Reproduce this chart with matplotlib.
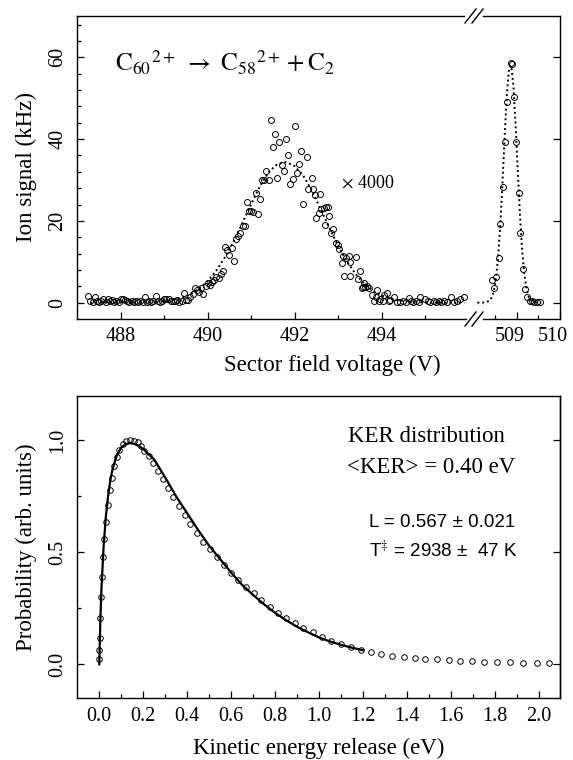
# C60 2+ -> C58 2+ + C2 : MIKE peak and KER distribution

import numpy as np
import matplotlib
matplotlib.use("Agg")
import matplotlib.pyplot as plt
from matplotlib.lines import Line2D
from matplotlib.ticker import FixedLocator, FormatStrFormatter
from matplotlib.transforms import ScaledTranslation

plt.rcParams['font.family'] = ['Liberation Serif', 'DejaVu Serif']
plt.rcParams['mathtext.fontset'] = 'stix'

# ---- top panel: fragment peak (x4000) and parent peak ----
frag_v = [487.25, 487.30, 487.35, 487.40, 487.45, 487.50, 487.55, 487.60, 487.65, 487.70,
          487.75, 487.80, 487.85, 487.90, 487.95, 488.00, 488.05, 488.10, 488.15, 488.20,
          488.25, 488.30, 488.35, 488.40, 488.45, 488.50, 488.55, 488.60, 488.65, 488.70,
          488.75, 488.80, 488.85, 488.90, 488.95, 489.00, 489.05, 489.10, 489.15, 489.20,
          489.25, 489.30, 489.35, 489.40, 489.45, 489.50, 489.55, 489.60, 489.65, 489.70,
          489.75, 489.80, 489.85, 489.90, 489.95, 490.00, 490.05, 490.10, 490.15, 490.20,
          490.25, 490.30, 490.35, 490.40, 490.45, 490.50, 490.55, 490.60, 490.65, 490.70,
          490.75, 490.80, 490.85, 490.90, 490.95, 491.00, 491.05, 491.10, 491.15, 491.20,
          491.25, 491.30, 491.35, 491.40, 491.45, 491.50, 491.55, 491.60, 491.65, 491.70,
          491.75, 491.80, 491.85, 491.90, 491.95, 492.00, 492.05, 492.10, 492.15, 492.20,
          492.29, 492.30, 492.40, 492.43, 492.46, 492.48, 492.56, 492.58, 492.61, 492.67,
          492.69, 492.72, 492.77, 492.79, 492.83, 492.87, 492.94, 493.00, 493.02, 493.09,
          493.12, 493.13, 493.18, 493.25, 493.26, 493.27, 493.40, 493.45, 493.50, 493.54,
          493.57, 493.60, 493.62, 493.66, 493.70, 493.78, 493.82, 493.86, 493.89, 493.93,
          493.97, 494.02, 494.06, 494.12, 494.16, 494.20, 494.29, 494.35, 494.43, 494.50,
          494.56, 494.62, 494.67, 494.73, 494.80, 494.85, 494.89, 495.00, 495.06, 495.12,
          495.20, 495.25, 495.31, 495.37, 495.43, 495.50, 495.60, 495.66, 495.73, 495.81,
          495.89]
frag_sig = [1.6, 0.3, 0.2, 1.5, 0.3, 0.2, 0.3, 0.9, 0.2, 1.0,
            0.4, 0.6, 0.2, 0.3, 0.2, 0.8, 1.0, 0.6, 0.4, 0.2,
            0.3, 0.2, 0.3, 0.2, 0.3, 0.2, 1.4, 0.2, 0.3, 0.2,
            0.4, 1.6, 0.3, 0.2, 0.4, 0.9, 0.8, 1.0, 0.5, 0.3,
            0.4, 0.6, 0.2, 0.5, 2.4, 0.6, 0.6, 1.4, 2.0, 3.5,
            3.1, 2.6, 3.5, 2.1, 4.0, 4.7, 4.2, 5.0, 5.6, 6.2,
            6.0, 7.0, 7.8, 13.7, 12.9, 11.7, 13.4, 10.2, 15.5, 16.4,
            17.0, 18.8, 18.8, 24.7, 22.3, 22.3, 22.1, 26.8, 21.6, 25.3,
            29.9, 30.0, 32.1, 30.0, 44.6, 38.0, 41.2, 30.6, 39.3, 33.7,
            32.3, 40.1, 36.0, 29.1, 30.2, 43.1, 31.7, 33.9, 37.1, 24.1,
            35.6, 27.8, 30.4, 27.8, 26.3, 20.6, 22.0, 26.5, 22.8, 23.1,
            19.0, 23.3, 23.3, 21.2, 17.0, 18.0, 14.7, 14.1, 13.1, 9.6,
            11.3, 6.5, 11.0, 11.3, 6.5, 10.0, 11.2, 5.9, 7.7, 3.6,
            3.8, 4.7, 3.8, 4.1, 3.5, 1.9, 0.5, 1.5, 3.1, 0.4,
            0.8, 0.3, 1.9, 2.4, 0.4, 0.7, 1.3, 0.2, 0.1, 0.4,
            0.2, 1.1, 0.3, 0.2, 0.3, 0.1, 1.5, 0.9, 0.3, 0.2,
            0.5, 0.2, 0.4, 0.2, 0.5, 0.2, 1.5, 0.2, 0.5, 0.8,
            1.3]

frag_fit_v = [487.3, 488.0, 488.6, 489.0, 489.2, 489.4, 489.6, 489.8, 490.0, 490.2,
              490.4, 490.6, 490.8, 491.0, 491.2, 491.4, 491.6, 491.8, 492.0, 492.2,
              492.4, 492.6, 492.8, 493.0, 493.2, 493.4, 493.6, 493.8, 494.0, 494.2,
              494.4, 494.6, 494.8, 495.0, 495.4, 495.9]
frag_fit = [0.0, 0.0, 0.1, 0.35, 0.67, 1.19, 2.06, 3.38, 5.29, 7.88,
            11.2, 15.1, 19.6, 24.1, 28.5, 31.9, 33.9, 34.4, 33.4, 31.0,
            27.3, 22.8, 18.2, 13.9, 10.1, 7.0, 4.6, 2.9, 1.76, 1.01,
            0.55, 0.29, 0.14, 0.06, 0.0, 0.0]

par_v = [508.44, 508.48, 508.53, 508.59, 508.63, 508.69, 508.73, 508.78, 508.88, 508.90,
         508.95, 508.99, 509.05, 509.09, 509.15, 509.20, 509.25, 509.30, 509.35, 509.41,
         509.48, 509.54]
par_sig = [5.5, 3.5, 6.2, 10.9, 19.2, 28.4, 39.4, 49.2, 58.6, 58.3,
           50.3, 39.3, 26.8, 17.1, 8.2, 3.3, 1.3, 0.5, 0.3, 0.1,
           0.1, 0.1]
par_fit_v = [508.10, 508.18, 508.28, 508.38, 508.43, 508.48, 508.53, 508.58, 508.63, 508.68,
             508.73, 508.78, 508.83, 508.88, 508.93, 508.98, 509.03, 509.08, 509.13, 509.18,
             509.23, 509.28, 509.33, 509.38, 509.43, 509.50, 509.57]
par_fit = [0.0, 0.0, 0.05, 0.48, 1.25, 2.9, 6.0, 11.5, 19.5, 29.8,
           41.2, 51.2, 57.4, 58.0, 52.9, 43.3, 32.1, 21.3, 12.8, 6.9,
           3.4, 1.5, 0.6, 0.2, 0.1, 0.0, 0.0]

# ---- bottom panel: KER distribution ----
ker_e = [0.000, 0.001, 0.002, 0.005, 0.008, 0.011, 0.018, 0.023, 0.030, 0.038,
         0.049, 0.059, 0.068, 0.079, 0.091, 0.106, 0.121, 0.140, 0.158, 0.175,
         0.188, 0.205, 0.225, 0.245, 0.268, 0.291, 0.314, 0.336, 0.362, 0.390,
         0.415, 0.445, 0.473, 0.503, 0.536, 0.567, 0.599, 0.632, 0.668, 0.703,
         0.736, 0.775, 0.814, 0.852, 0.891, 0.929, 0.972, 1.013, 1.057, 1.100,
         1.145, 1.190, 1.235, 1.284, 1.334, 1.385, 1.435, 1.485, 1.538, 1.591,
         1.644, 1.697, 1.753, 1.811, 1.870, 1.930, 1.991, 2.049]
ker_p = [0.024, 0.064, 0.116, 0.208, 0.299, 0.390, 0.480, 0.558, 0.637, 0.711,
         0.778, 0.833, 0.885, 0.924, 0.957, 0.982, 0.997, 1.000, 0.998, 0.991,
         0.975, 0.954, 0.930, 0.900, 0.864, 0.826, 0.788, 0.748, 0.707, 0.667,
         0.626, 0.588, 0.547, 0.513, 0.478, 0.443, 0.409, 0.378, 0.347, 0.317,
         0.287, 0.257, 0.231, 0.205, 0.183, 0.161, 0.142, 0.122, 0.105, 0.090,
         0.076, 0.064, 0.054, 0.046, 0.039, 0.031, 0.027, 0.024, 0.022, 0.019,
         0.016, 0.015, 0.012, 0.010, 0.008, 0.007, 0.004, 0.004]
fit_e = [0.0, 0.005, 0.01, 0.02, 0.03, 0.04, 0.05, 0.06, 0.08, 0.10,
         0.12, 0.14, 0.16, 0.18, 0.20, 0.25, 0.30, 0.35, 0.40, 0.45,
         0.50, 0.55, 0.60, 0.65, 0.70, 0.75, 0.80, 0.85, 0.90, 0.95,
         1.00, 1.05, 1.10, 1.15, 1.20]
fit_p = [0.0, 0.20, 0.34, 0.53, 0.66, 0.75, 0.82, 0.87, 0.935, 0.968,
         0.984, 0.988, 0.985, 0.975, 0.962, 0.915, 0.835, 0.750, 0.675, 0.600,
         0.530, 0.470, 0.410, 0.355, 0.310, 0.268, 0.230, 0.197, 0.168, 0.143,
         0.120, 0.102, 0.087, 0.074, 0.063]

W, H = 573, 760
fig = plt.figure(figsize=(W / 100, H / 100), dpi=100)


def px2fig(x, y):
    return x / W, 1 - y / H


def style_ticks(ax):
    ax.tick_params(which='both', direction='in', top=False, labelsize=14.5,
                   width=0.9, colors='black')
    ax.tick_params(which='major', length=5)
    ax.tick_params(which='minor', length=3.2)
    for s in ax.spines.values():
        s.set_linewidth(1.0)


dot_style = dict(color='black', lw=1.4, linestyle=(0, (1, 1.5)))
circ_style = dict(linestyle='none', marker='o', mfc='none', mec='black', ms=4.3, mew=0.7)

# top axes (broken x-axis)
ax1 = fig.add_axes([77.3 / W, 1 - 319 / H, (473 - 77.3) / W, (319 - 15.7) / H])
ax2 = fig.add_axes([473 / W, 1 - 319 / H, (560 - 473) / W, (319 - 15.7) / H])

ax1.plot(frag_fit_v, frag_fit, **dot_style)
ax1.plot(frag_v, frag_sig, **circ_style)
ax2.plot(par_fit_v, par_fit, **dot_style)
ax2.plot(par_v, par_sig, **circ_style)

ax1.set_xlim(487.0, 496.1)
ax2.set_xlim(508.0, 510.0)
for ax in (ax1, ax2):
    ax.set_ylim(-4, 70.2)
    style_ticks(ax)

ax1.spines['right'].set_visible(False)
ax2.spines['left'].set_visible(False)
ax1.spines['top'].set_bounds(487.0, 495.9)
ax1.spines['bottom'].set_bounds(487.0, 495.95)
ax2.spines['top'].set_bounds(508.23, 510.0)
ax2.spines['bottom'].set_bounds(508.23, 510.0)

ax1.xaxis.set_major_locator(FixedLocator([488, 490, 492, 494]))
ax1.xaxis.set_minor_locator(FixedLocator([489, 491, 493, 495]))
ax1.yaxis.set_major_locator(FixedLocator([0, 20, 40, 60]))
ax1.yaxis.set_minor_locator(FixedLocator([4, 8, 12, 16, 24, 28, 32, 36, 44, 48, 52, 56, 64, 68]))
ax1.tick_params(axis='y', which='both', right=False)
ax1.tick_params(axis='y', labelrotation=90, pad=7)
for lab in ax1.get_yticklabels():
    lab.set_va('center')

ax2.xaxis.set_major_locator(FixedLocator([509, 510]))
ax2.xaxis.set_minor_locator(FixedLocator([508.5, 509.5]))
ax2.yaxis.set_major_locator(FixedLocator([0, 20, 40, 60]))
ax2.yaxis.set_minor_locator(FixedLocator([]))
ax2.tick_params(axis='y', which='both', left=False, right=True, labelleft=False)
ax1.tick_params(axis='x', pad=6)
ax2.tick_params(axis='x', pad=6)

ax1.set_ylabel('Ion signal (kHz)', fontsize=16.5, labelpad=8)
fig.text(332.5 / W, 1 - 365 / H, 'Sector field voltage (V)', fontsize=16.5,
         ha='center', va='center')

ax1.text(487.86, 56.5, r'$\mathrm{C}_{60}{}^{2+}\ \rightarrow\ \mathrm{C}_{58}{}^{2+} + \mathrm{C}_{2}$',
         fontsize=18, ha='left', va='baseline')
ax1.text(493.07, 28.1, r'$\times$ 4000', fontsize=13, ha='left', va='baseline')

# break marks
for yc in (16, 319):
    for xo in (0, 7):
        x0, y0 = px2fig(465 + xo, yc + 7)
        x1, y1 = px2fig(476 + xo, yc - 7)
        fig.add_artist(Line2D([x0, x1], [y0, y1], color='black', lw=1.0))

# bottom axes
ax3 = fig.add_axes([77.3 / W, 1 - 698.3 / H, (559.5 - 77.3) / W, (698.3 - 395.7) / H])
ax3.plot(fit_e, fit_p, color='black', lw=1.6)
ax3.plot(ker_e, ker_p, **dict(circ_style, ms=4.0))
ax3.set_xlim(-0.1, 2.095)
ax3.set_ylim(-0.152, 1.2)
style_ticks(ax3)
ax3.xaxis.set_major_locator(FixedLocator(np.round(np.arange(0, 2.01, 0.2), 1)))
ax3.xaxis.set_minor_locator(FixedLocator(np.round(np.arange(0.1, 2.0, 0.2), 1)))
ax3.xaxis.set_major_formatter(FormatStrFormatter('%.1f'))
ax3.yaxis.set_major_locator(FixedLocator([0.0, 0.5, 1.0]))
ax3.yaxis.set_minor_locator(FixedLocator([0.25, 0.75]))
ax3.yaxis.set_major_formatter(FormatStrFormatter('%.1f'))
ax3.tick_params(axis='y', labelrotation=90, pad=7)
for lab in ax3.get_yticklabels():
    lab.set_va('center')
ax3.tick_params(axis='x', pad=6)
ax3.set_ylabel('Probability (arb. units)', fontsize=16.5, labelpad=8)
ax3.set_xlabel('Kinetic energy release (eV)', fontsize=16.5, labelpad=9)

# right-side major ticks only
ax3r = ax3.secondary_yaxis('right')
ax3r.yaxis.set_major_locator(FixedLocator([0.0, 0.5, 1.0]))
ax3r.tick_params(direction='in', length=5, width=0.9, labelright=False)
ax3r.spines['right'].set_linewidth(1.0)

ax3.text(1.13, 0.994, 'KER distribution', fontsize=16.5, ha='left', va='baseline')
ax3.text(1.126, 0.854, '<KER> = 0.40 eV', fontsize=16.5, ha='left', va='baseline')
ax3.text(1.23, 0.614, 'L = 0.567 ± 0.021', fontsize=13.5, ha='left', va='baseline',
         family=['Liberation Sans', 'DejaVu Sans'])
ax3.text(1.23, 0.48, r'T$^{\ddag}$ = 2938 ±  47 K', fontsize=13.5, ha='left', va='baseline',
         family=['Liberation Sans', 'DejaVu Sans'])

# the original prints the 509 / 510 labels slightly left of their ticks
fig.canvas.draw()
shift = ScaledTranslation(-7 / 100, 0, fig.dpi_scale_trans)
for lab in ax2.get_xticklabels():
    lab.set_transform(lab.get_transform() + shift)

fig.savefig('out.png', dpi=100)
